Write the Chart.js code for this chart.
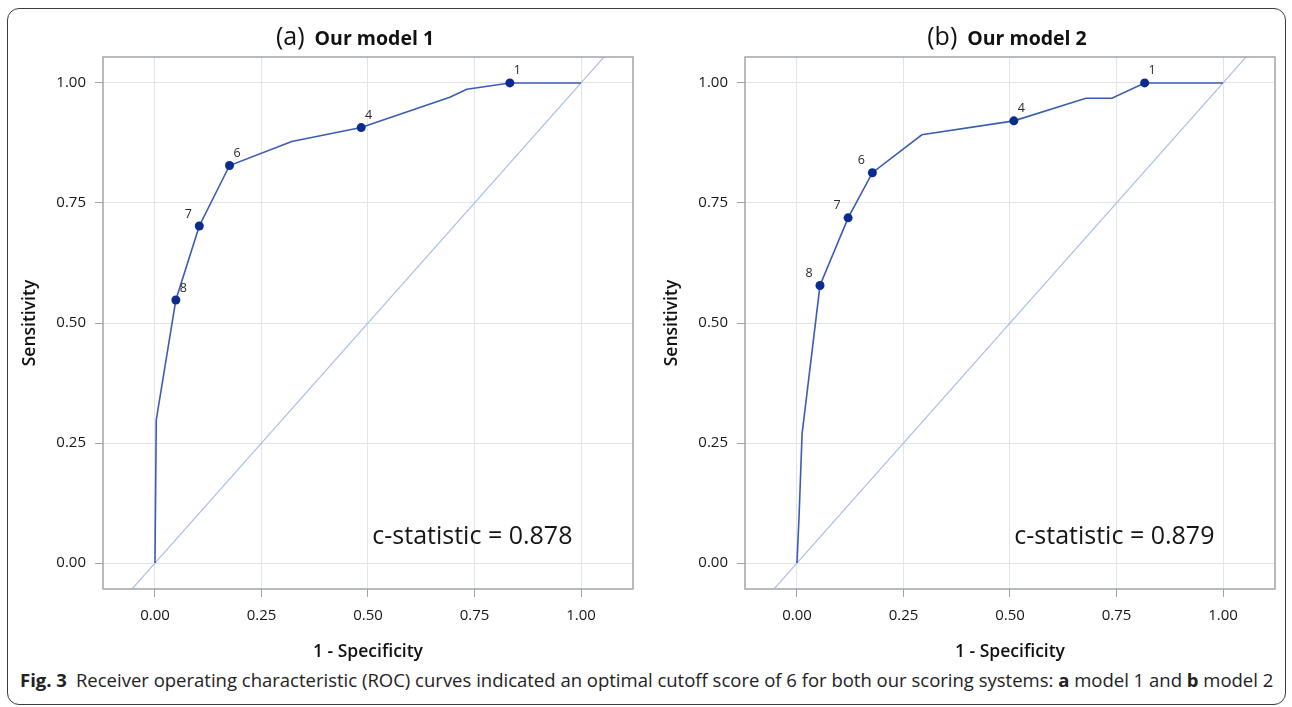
<!DOCTYPE html>
<html>
<head>
<meta charset="utf-8">
<script src="https://cdn.jsdelivr.net/npm/chart.js@4.4.1/dist/chart.umd.min.js"></script>
<style>
  body { margin: 0; background: #fff; font-family: "Open Sans", sans-serif; color: #1a1a1a; }
  #fig { position: relative; width: 1292px; height: 707px; overflow: hidden; }
  .frame { position: absolute; left: 7px; top: 8px; width: 1277px; height: 695px; border: 1.5px solid #3c3c3c; border-radius: 12px; }
  .panel { position: absolute; top: 0; }
  .ptitle { position: absolute; top: 18px; white-space: nowrap; transform: translateX(-50%); line-height: 34px; color: #111; }
  .ptitle .tag { font-size: 25px; }
  .ptitle .name { font-size: 19.5px; font-weight: 700; margin-left: 10px; }
  .caption { position: absolute; left: 20px; top: 667px; font-size: 18.5px; white-space: nowrap; color: #222; }
  .caption b { margin-right: 9px; }
</style>
</head>
<body>
<div id="fig">
  <div class="frame"></div>
  <canvas id="roc-1" class="panel" style="left:0px" width="645" height="665"></canvas>
  <canvas id="roc-2" class="panel" style="left:642px" width="645" height="665"></canvas>
  <div class="ptitle" style="left:355px"><span class="tag">(a)</span><span class="name">Our model 1</span></div>
  <div class="ptitle" style="left:1007px"><span class="tag">(b)</span><span class="name">Our model 2</span></div>
  <div class="caption"><b>Fig. 3</b>Receiver operating characteristic (ROC) curves indicated an optimal cutoff score of 6 for both our scoring systems: <b style="margin:0">a</b> model 1 and <b style="margin:0">b</b> model 2</div>
</div>
<script>
// ROC curve, model 1 (1 - specificity vs sensitivity)
const model1Fpr = [0, 0.003, 0.049, 0.104, 0.175, 0.321, 0.484, 0.692, 0.732, 0.833, 1.0];
const model1Tpr = [0, 0.298, 0.548, 0.702, 0.828, 0.878, 0.907, 0.970, 0.987, 1.0, 1.0];
// ROC curve, model 2
const model2Fpr = [0, 0.005, 0.012, 0.054, 0.120, 0.177, 0.293, 0.509, 0.678, 0.739, 0.816, 1.0];
const model2Tpr = [0, 0.100, 0.269, 0.578, 0.719, 0.813, 0.892, 0.921, 0.968, 0.968, 1.0, 1.0];

// labelled cutoff scores
const cutoffLabels = ['8', '7', '6', '4', '1'];
const model1CutFpr = [0.049, 0.104, 0.175, 0.484, 0.833];
const model1CutTpr = [0.548, 0.702, 0.828, 0.907, 1.0];
const model2CutFpr = [0.054, 0.120, 0.177, 0.509, 0.816];
const model2CutTpr = [0.578, 0.719, 0.813, 0.921, 1.0];

const cStatistic = [0.878, 0.879];
const chanceLine = [-0.06, 1.06];
const axisTicks = [0, 0.25, 0.5, 0.75, 1.0];

const BLUE = '#3a5cb4', NAVY = '#0b2c8e', DIAG = '#a9bfe8', GRID = '#e1e4e9', FRAME = '#a0a4a9';

const toXY = (xs, ys) => xs.map((x, i) => ({ x, y: ys[i] }));

// box around plot area, cutoff numbers, c-statistic text
const rocDecor = {
  id: 'rocDecor',
  afterDatasetsDraw(chart, args, opts) {
    const { ctx, chartArea: a, scales: { x, y } } = chart;
    ctx.save();
    ctx.strokeStyle = FRAME; ctx.lineWidth = 1.5;
    ctx.strokeRect(a.left, a.top, a.right - a.left, a.bottom - a.top);

    ctx.fillStyle = '#2a2a2a';
    ctx.font = '12.5px "Open Sans"';
    ctx.textAlign = 'center'; ctx.textBaseline = 'middle';
    chart.getDatasetMeta(0).data.forEach((pt, i) => {
      const left = opts.leftLabels.includes(cutoffLabels[i]);
      ctx.fillText(cutoffLabels[i], pt.x + (left ? -11 : 7.5), pt.y - 12);
    });

    ctx.fillStyle = '#151515';
    ctx.font = '25px "Open Sans"';
    ctx.fillText('c-statistic = ' + opts.cstat.toFixed(3), x.getPixelForValue(0.745), y.getPixelForValue(0.055));
    ctx.restore();
  }
};

function axis(title, min, max, size, horizontal) {
  return {
    type: 'linear', min, max,
    afterBuildTicks: s => { s.ticks = axisTicks.map(v => ({ value: v })); },
    afterFit: s => { if (horizontal) s.height = size; else s.width = size; },
    grid: { color: GRID, lineWidth: 1, tickColor: FRAME, tickLength: 8 },
    border: { display: false },
    ticks: { color: '#161616', font: { family: 'Open Sans', size: 15 }, padding: horizontal ? 10 : 9,
             callback: v => v.toFixed(2) },
    title: { display: true, text: title, color: '#111',
             font: { family: 'Open Sans', size: 17.5, weight: '600' },
             padding: horizontal ? { top: 0, bottom: 2.5 } : { top: 19.5, bottom: 0 } }
  };
}

function drawRoc(id, fpr, tpr, cutFpr, cutTpr, cstat, leftLabels) {
  new Chart(document.getElementById(id), {
    type: 'scatter',
    data: {
      datasets: [
        { data: toXY(cutFpr, cutTpr), pointRadius: 4.5, pointHoverRadius: 4.5,
          backgroundColor: NAVY, borderColor: NAVY, borderWidth: 0, showLine: false },
        { data: toXY(fpr, tpr), showLine: true, borderColor: BLUE, borderWidth: 1.6,
          pointRadius: 0, tension: 0 },
        { data: toXY(chanceLine, chanceLine), showLine: true, borderColor: DIAG, borderWidth: 1.2,
          pointRadius: 0, clip: 0 }
      ]
    },
    options: {
      responsive: false, animation: false, devicePixelRatio: 1,
      layout: { padding: { top: 57, right: 12, left: 0, bottom: 0 } },
      plugins: { legend: { display: false }, tooltip: { enabled: false }, rocDecor: { cstat, leftLabels } },
      scales: {
        x: axis('1 - Specificity', -0.122, 1.122, 76, true),
        y: axis('Sensitivity', -0.054, 1.054, 103, false)
      }
    },
    plugins: [rocDecor]
  });
}

drawRoc('roc-1', model1Fpr, model1Tpr, model1CutFpr, model1CutTpr, cStatistic[0], ['7']);
drawRoc('roc-2', model2Fpr, model2Tpr, model2CutFpr, model2CutTpr, cStatistic[1], ['8', '7', '6']);
</script>
</body>
</html>
